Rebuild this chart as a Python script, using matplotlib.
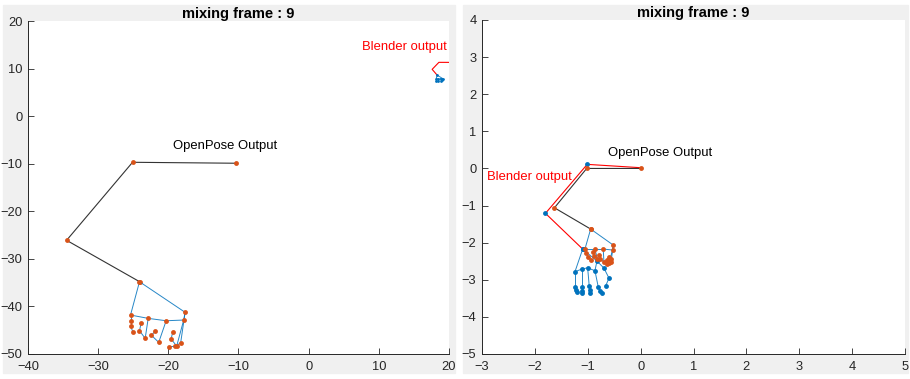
import matplotlib
matplotlib.use('Agg')
import matplotlib.pyplot as plt
from matplotlib.patches import Rectangle

plt.rcParams['font.family'] = ['Liberation Sans', 'DejaVu Sans']

BLUE = '#0072BD'
ORANGE = '#D95319'
DARK = '#262626'

# hand skeleton: wrist, thumb, index, middle, ring, pinky (21 keypoints)
hand_edges = [(0, 1), (1, 2), (2, 3), (3, 4),
              (1, 5), (5, 6), (6, 7), (7, 8),
              (5, 9), (9, 10), (10, 11), (11, 12),
              (9, 13), (13, 14), (14, 15), (15, 16),
              (13, 17), (17, 18), (18, 19), (19, 20),
              (0, 17)]

# ---- frame 9, raw openpose coordinates ----
op_body_x = [-10.3, -25.1, -34.5, -24.1]
op_body_y = [-9.9, -9.7, -26.1, -34.8]
op_hand_x = [-24.11, -25.39, -25.39, -25.39, -25.06,
             -22.87, -23.30, -24.11, -23.87,
             -20.31, -21.37, -22.40, -21.83,
             -17.81, -18.81, -19.60, -19.37,
             -17.61, -18.24, -19.00, -19.94]
op_hand_y = [-34.81, -41.81, -43.01, -44.12, -45.32,
             -42.51, -46.71, -45.11, -43.43,
             -43.01, -47.55, -46.08, -45.11,
             -42.86, -48.33, -46.86, -45.32,
             -41.24, -47.63, -48.40, -48.47]

bl_body_x = [21.0, 18.56, 17.6, 18.3]
bl_body_y = [11.3, 11.31, 9.84, 8.64]
bl_hand_x = [18.3, 18.2, 18.5, 18.8, 19.1, 18.2, 18.5, 18.8, 19.0]
bl_hand_y = [8.64, 7.9, 7.8, 7.85, 7.9, 7.4, 7.3, 7.35, 7.5]
bl_hand_edges = [(0, 1), (0, 4), (1, 2), (2, 3), (3, 4),
                 (1, 5), (2, 6), (3, 7), (4, 8)]

# ---- frame 9, normalised coordinates ----
op_body_nx = [0.0, -1.02, -1.63, -0.945]
op_body_ny = [0.0, 0.0, -1.06, -1.633]
op_hand_nx = [-0.945, -1.053, -1.025, -0.987, -0.940,
              -0.864, -0.817, -0.873, -0.902,
              -0.707, -0.694, -0.760, -0.779,
              -0.529, -0.599, -0.643, -0.594,
              -0.518, -0.552, -0.567, -0.637]
op_hand_ny = [-1.633, -2.172, -2.280, -2.388, -2.456,
              -2.172, -2.442, -2.361, -2.253,
              -2.172, -2.523, -2.442, -2.334,
              -2.199, -2.536, -2.469, -2.380,
              -2.065, -2.442, -2.523, -2.577]

bl_body_nx = [0.0, -1.01, -1.80, -1.096]
bl_body_ny = [0.02, 0.11, -1.21, -2.172]
bl_hand_nx = [-1.096, -0.826, -0.694, -0.599, -0.662,
              -0.864, -0.802, -0.769, -0.737,
              -1.002, -0.972, -0.958, -0.953,
              -1.115, -1.115, -1.115, -1.100,
              -1.242, -1.242, -1.229, -1.204]
bl_hand_ny = [-2.172, -2.496, -2.685, -2.954, -3.170,
              -2.757, -3.189, -3.296, -3.367,
              -2.677, -3.170, -3.278, -3.358,
              -2.712, -3.189, -3.296, -3.358,
              -2.784, -3.189, -3.278, -3.332]

frame = 9


def draw_hand(ax, xs, ys, edges, dot_color, ms=7):
    for a, b in edges:
        ax.plot([xs[a], xs[b]], [ys[a], ys[b]], color=BLUE, lw=0.7, alpha=0.85)
    ax.plot(xs, ys, '.', color=dot_color, ms=ms, markeredgewidth=0)


def style_axes(ax, xlim, ylim, xticks, yticks):
    ax.set_xlim(xlim)
    ax.set_ylim(ylim)
    ax.set_xticks(xticks)
    ax.set_yticks(yticks)
    for s in ['top', 'right']:
        ax.spines[s].set_visible(False)
    for s in ['left', 'bottom']:
        ax.spines[s].set_color(DARK)
        ax.spines[s].set_linewidth(0.7)
    ax.tick_params(direction='in', length=4, width=0.6, color=DARK,
                   labelcolor=DARK, labelsize=9.3)
    ax.tick_params(axis='x', pad=5)
    ax.tick_params(axis='y', pad=4)
    ax.set_title(f'mixing frame : {frame}', fontsize=10.5, fontweight='bold',
                 pad=2.5, color='black')


fig = plt.figure(figsize=(9.1, 3.79), dpi=100, facecolor='white')
W, H = 910, 379
fig.patches.append(Rectangle((3 / W, 6 / H), 452 / W, 368 / H,
                             transform=fig.transFigure, color='#f0f0f0', zorder=-10))
fig.patches.append(Rectangle((463 / W, 6 / H), 445 / W, 368 / H,
                             transform=fig.transFigure, color='#f0f0f0', zorder=-10))

ax1 = fig.add_axes([28 / W, 25 / H, 421 / W, 333 / H])
ax2 = fig.add_axes([482 / W, 25 / H, 423 / W, 334 / H])

# left: raw coordinates
ax1.plot(op_body_x + [op_hand_x[0]], op_body_y + [op_hand_y[0]], color='#333333', lw=0.8)
ax1.plot(op_body_x, op_body_y, '.', color=ORANGE, ms=7, markeredgewidth=0)
draw_hand(ax1, op_hand_x, op_hand_y, hand_edges, ORANGE)
ax1.plot(bl_body_x, bl_body_y, color='red', lw=0.8)
draw_hand(ax1, bl_hand_x, bl_hand_y, bl_hand_edges, BLUE, ms=4)
ax1.text(-19.4, -6.3, 'OpenPose Output', fontsize=9.4, va='center', ha='left')
ax1.text(7.6, 14.5, 'Blender output', fontsize=9.4, va='center', ha='left', color='red')
style_axes(ax1, (-40, 20), (-50, 20), range(-40, 21, 10), range(-50, 21, 10))

# right: normalised coordinates
ax2.plot(bl_body_nx, bl_body_ny, color='red', lw=0.8)
ax2.plot(bl_body_nx[1:], bl_body_ny[1:], '.', color=BLUE, ms=7, markeredgewidth=0)
draw_hand(ax2, bl_hand_nx, bl_hand_ny, hand_edges, BLUE)
ax2.plot(op_body_nx, op_body_ny, color='#333333', lw=0.8)
ax2.plot(op_body_nx, op_body_ny, '.', color=ORANGE, ms=7, markeredgewidth=0)
draw_hand(ax2, op_hand_nx, op_hand_ny, hand_edges, ORANGE)
ax2.text(-0.62, 0.41, 'OpenPose Output', fontsize=9.4, va='center', ha='left')
ax2.text(-2.905, -0.23, 'Blender output', fontsize=9.4, va='center', ha='left', color='red')
style_axes(ax2, (-3, 5), (-5, 4), range(-3, 6), range(-5, 5))

fig.savefig('out.png', dpi=100, facecolor=fig.get_facecolor())
